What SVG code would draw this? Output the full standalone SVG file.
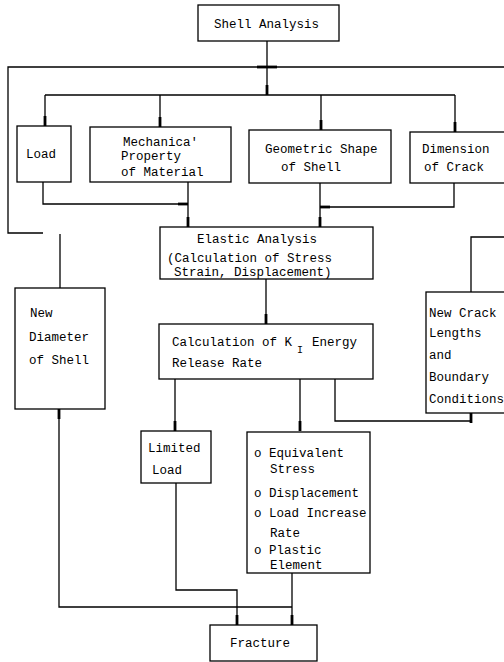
<svg xmlns="http://www.w3.org/2000/svg" width="504" height="662" viewBox="0 0 504 662">
<defs>
<style>
.box{fill:#fff;stroke:#000;stroke-width:1.3}
.c{fill:none;stroke:#000;stroke-width:1.3}
.a{marker-end:url(#ah)}
text{font-family:"Liberation Mono","DejaVu Sans Mono",monospace;font-size:12.5px;fill:#000}
</style>
<marker id="ah" viewBox="0 0 10 4" refX="10" refY="2" markerWidth="10" markerHeight="4" markerUnits="userSpaceOnUse" orient="auto">
<path d="M0,0.6 H10 V3.4 H0 z" fill="#000"/>
</marker>
</defs>
<rect width="504" height="662" fill="#fff"/>
<g id="connectors">
<path class="c a" d="M267,41 V95"/>
<path class="c a" d="M43,233 H8 V67 H267"/>
<path class="c a" d="M504,67 H267"/>
<path class="c" d="M60,288 V234"/>
<path class="c" d="M471,292 V237 H504"/>
<path class="c" d="M45,95 H455"/>
<path class="c a" d="M45,95 V126"/>
<path class="c a" d="M160,95 V127"/>
<path class="c a" d="M321,95 V130"/>
<path class="c a" d="M455,95 V132"/>
<path class="c a" d="M43,182 V204 H188"/>
<path class="c a" d="M188,182 V227"/>
<path class="c a" d="M320,183 V227"/>
<path class="c a" d="M454,183 V207 H320"/>
<path class="c a" d="M266,279 V324"/>
<path class="c a" d="M175,379 V431"/>
<path class="c a" d="M300,379 V431"/>
<path class="c a" d="M335,379 V421 H471 V413"/>
<path class="c a" d="M292,607 H59 V409"/>
<path class="c a" d="M176,483 V590 H237 V625"/>
<path class="c a" d="M292,573 V625"/>
</g>
<g id="shell-analysis">
<rect class="box" x="198" y="5" width="141" height="36"/>
<text x="214" y="28">Shell Analysis</text>
</g>
<g id="load">
<rect class="box" x="17" y="126" width="54" height="56"/>
<text x="26" y="158">Load</text>
</g>
<g id="mechanical">
<rect class="box" x="90" y="127" width="141" height="55"/>
<text x="123" y="146">Mechanica'</text>
<text x="121" y="160">Property</text>
<text x="121" y="176">of Material</text>
</g>
<g id="geometric">
<rect class="box" x="249" y="130" width="142" height="53"/>
<text x="265" y="153">Geometric Shape</text>
<text x="281" y="171">of Shell</text>
</g>
<g id="dimension">
<rect class="box" x="410" y="132" width="96" height="51"/>
<text x="422" y="153">Dimension</text>
<text x="424" y="171">of Crack</text>
</g>
<g id="elastic">
<rect class="box" x="160" y="227" width="213" height="52"/>
<text x="197" y="243">Elastic Analysis</text>
<text x="167" y="262">(Calculation of Stress</text>
<text x="174" y="276">Strain, Displacement)</text>
</g>
<g id="ki">
<rect class="box" x="159" y="324" width="214" height="55"/>
<text x="172" y="346">Calculation of K</text>
<text x="297" y="353" style="font-size:10px">I</text>
<text x="312" y="346">Energy</text>
<text x="172" y="367">Release Rate</text>
</g>
<g id="new-diameter">
<rect class="box" x="15" y="288" width="90" height="121"/>
<text x="30" y="317">New</text>
<text x="29" y="341">Diameter</text>
<text x="29" y="364">of Shell</text>
</g>
<g id="new-crack">
<rect class="box" x="426" y="292" width="82" height="121"/>
<text x="429" y="317">New Crack</text>
<text x="429" y="337">Lengths</text>
<text x="429" y="359">and</text>
<text x="429" y="381">Boundary</text>
<text x="429" y="403">Conditions</text>
</g>
<g id="limited-load">
<rect class="box" x="141" y="431" width="70" height="52"/>
<text x="148" y="452">Limited</text>
<text x="152" y="474">Load</text>
</g>
<g id="criteria">
<rect class="box" x="247" y="432" width="123" height="141"/>
<text x="254" y="457">o Equivalent</text>
<text x="270" y="473">Stress</text>
<text x="254" y="497">o Displacement</text>
<text x="254" y="517">o Load Increase</text>
<text x="270" y="537">Rate</text>
<text x="254" y="554">o Plastic</text>
<text x="270" y="569">Element</text>
</g>
<g id="fracture">
<rect class="box" x="210" y="625" width="107" height="36"/>
<text x="230" y="647">Fracture</text>
</g>
</svg>
